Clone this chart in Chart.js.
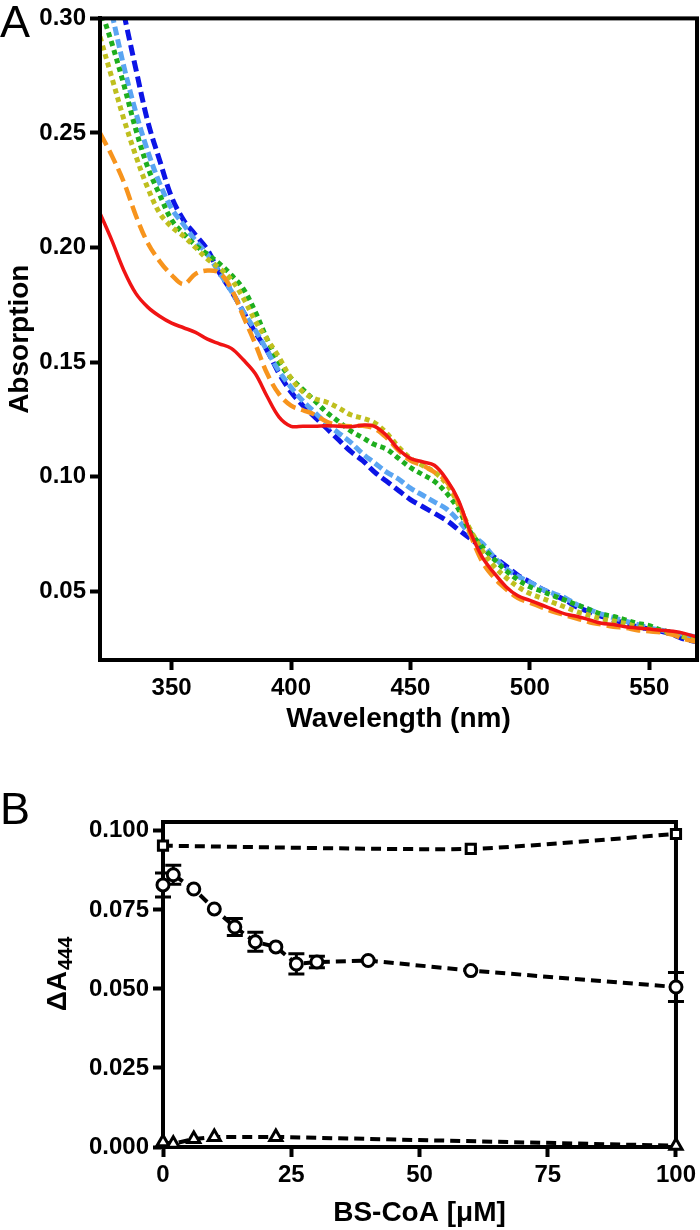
<!DOCTYPE html>
<html>
<head>
<meta charset="utf-8">
<script src="https://cdn.jsdelivr.net/npm/chart.js@4.4.1/dist/chart.umd.min.js"></script>
<style>
  html, body { margin: 0; padding: 0; background: #fff; }
  body { width: 700px; height: 1230px; position: relative; overflow: hidden; font-family: "Liberation Sans", Arial, sans-serif; }
  .panel-letter { position: absolute; left: 0; font-size: 45px; line-height: 1; color: #000; }
  #wrapA { position: absolute; left: 0; top: 0; width: 700px; height: 740px; }
  #wrapB { position: absolute; left: 0; top: 740px; width: 700px; height: 490px; }
</style>
</head>
<body>
<div id="wrapA"><canvas id="chart-spectra" width="700" height="740"></canvas></div>
<div id="wrapB"><canvas id="chart-titration" width="700" height="490"></canvas></div>
<div class="panel-letter" style="top:-1px">A</div>
<div class="panel-letter" style="top:786px">B</div>
<script>
// ---- panel A: spectra ----
const wavelengths = [
  320, 325, 330, 335, 340, 345, 350, 355, 360, 365,
  370, 375, 380, 385, 390, 395, 400, 405, 410, 415,
  420, 425, 430, 435, 440, 445, 450, 455, 460, 465,
  470, 475, 480, 485, 490, 495, 500, 505, 510, 515,
  520, 525, 530, 535, 540, 545, 550, 555, 560, 565, 570,
];
const wavelengthTicks = [350, 400, 450, 500, 550];
const absorptionTicks = [0.05, 0.10, 0.15, 0.20, 0.25, 0.30];

const absRed = [
  0.215, 0.203, 0.190, 0.180, 0.174, 0.170, 0.167, 0.165, 0.163, 0.160,
  0.158, 0.156, 0.151, 0.145, 0.135, 0.126, 0.122, 0.122, 0.122, 0.1222,
  0.122, 0.1218, 0.1225, 0.122, 0.118, 0.112, 0.108, 0.1065, 0.105, 0.099,
  0.090, 0.076, 0.065, 0.058, 0.052, 0.048, 0.046, 0.044, 0.042, 0.040,
  0.039, 0.0375, 0.036, 0.0355, 0.0345, 0.034, 0.0335, 0.033, 0.0325, 0.0315, 0.030,
];
const absOrange = [
  0.250, 0.240, 0.2285, 0.214, 0.202, 0.194, 0.188, 0.184, 0.1885, 0.190,
  0.189, 0.182, 0.170, 0.158, 0.145, 0.136, 0.131, 0.129, 0.127, 0.124,
  0.1225, 0.122, 0.1222, 0.121, 0.117, 0.1115, 0.107, 0.105, 0.102, 0.098,
  0.089, 0.075, 0.063, 0.056, 0.051, 0.047, 0.045, 0.043, 0.041, 0.0395,
  0.038, 0.0365, 0.0355, 0.0345, 0.034, 0.033, 0.0325, 0.032, 0.031, 0.029, 0.028,
];
const absOlive = [
  0.292, 0.274, 0.256, 0.240, 0.226, 0.215, 0.209, 0.205, 0.200, 0.195,
  0.191, 0.186, 0.178, 0.168, 0.160, 0.152, 0.143, 0.137, 0.134, 0.1325,
  0.130, 0.127, 0.1255, 0.1235, 0.119, 0.113, 0.108, 0.105, 0.102, 0.097,
  0.088, 0.077, 0.068, 0.061, 0.056, 0.052, 0.049, 0.047, 0.045, 0.043,
  0.041, 0.0395, 0.038, 0.037, 0.036, 0.0345, 0.0335, 0.0325, 0.0315, 0.030, 0.029,
];
const absGreen = [
  0.305, 0.289, 0.271, 0.2515, 0.235, 0.223, 0.212, 0.206, 0.201, 0.197,
  0.193, 0.188, 0.182, 0.172, 0.160, 0.150, 0.143, 0.138, 0.133, 0.128,
  0.124, 0.120, 0.117, 0.114, 0.112, 0.108, 0.104, 0.101, 0.098, 0.093,
  0.086, 0.076, 0.0695, 0.064, 0.059, 0.055, 0.052, 0.050, 0.048, 0.046,
  0.044, 0.042, 0.040, 0.039, 0.0375, 0.036, 0.035, 0.033, 0.032, 0.030, 0.029,
];
const absLightBlue = [
  null, 0.302, 0.279, 0.259, 0.242, 0.228, 0.217, 0.210, 0.203, 0.197,
  0.189, 0.181, 0.172, 0.164, 0.155, 0.146, 0.139, 0.133, 0.128, 0.123,
  0.119, 0.115, 0.110, 0.106, 0.102, 0.099, 0.095, 0.092, 0.089, 0.086,
  0.081, 0.075, 0.071, 0.065, 0.060, 0.0565, 0.054, 0.051, 0.049, 0.047,
  0.044, 0.042, 0.040, 0.0385, 0.037, 0.0355, 0.034, 0.033, 0.032, 0.031, 0.030,
];
const absBlue = [
  null, null, 0.302, 0.278, 0.255, 0.238, 0.222, 0.212, 0.2055, 0.199,
  0.189, 0.181, 0.172, 0.163, 0.155, 0.145, 0.137, 0.131, 0.126, 0.121,
  0.116, 0.111, 0.107, 0.102, 0.098, 0.094, 0.090, 0.087, 0.084, 0.081,
  0.077, 0.073, 0.069, 0.065, 0.061, 0.057, 0.054, 0.051, 0.0485, 0.046,
  0.043, 0.041, 0.039, 0.0375, 0.036, 0.0345, 0.0335, 0.0325, 0.031, 0.029, 0.028,
];

// ---- panel B: titration ----
const concTicks = [0, 25, 50, 75, 100];
const deltaTicks = [0, 0.025, 0.05, 0.075, 0.1];

const concSquare = [0, 60, 100];
const deltaSquare = [0.0953, 0.0943, 0.099];

const concCircle = [0, 2, 6, 10, 14, 18, 22, 26, 30, 40, 60, 100];
const deltaCircle = [0.0829, 0.0861, 0.0816, 0.0753, 0.0696, 0.0649, 0.0633, 0.0579, 0.0585, 0.0590, 0.0558, 0.0506];
const errCircle = [0.0038, 0.003, 0, 0, 0.0027, 0.003, 0, 0.0032, 0.0018, 0, 0, 0.0046];

const concTriangle = [0, 2, 6, 10, 22, 100];
const deltaTriangle = [0.0015, 0.001, 0.0025, 0.0032, 0.0032, 0.0004];

Chart.defaults.font.family = "'Liberation Sans', Arial, sans-serif";
Chart.defaults.font.weight = "bold";
Chart.defaults.color = "#000";

const toPoints = (xs, ys) => xs.map((x, i) => ({ x, y: ys[i] }));

const framePlugin = {
  id: "frame",
  beforeDatasetsDraw(chart, args, opts) {
    if (opts.onTop) return;
    drawFrame(chart);
  },
  afterDatasetsDraw(chart, args, opts) {
    if (opts.onTop) drawFrame(chart);
  },
};

function drawFrame(chart) {
  const { ctx, chartArea: a } = chart;
  ctx.save();
  ctx.strokeStyle = "#000";
  ctx.lineWidth = 4;
  ctx.strokeRect(a.left, a.top, a.right - a.left, a.bottom - a.top);
  ctx.restore();
}

const errorBarPlugin = {
  id: "errorBars",
  beforeDatasetsDraw(chart) {
    const { ctx, scales: { x, y } } = chart;
    ctx.save();
    ctx.strokeStyle = "#000";
    ctx.lineWidth = 3;
    concCircle.forEach((c, i) => {
      const e = errCircle[i];
      if (!e) return;
      const px = x.getPixelForValue(c);
      const top = y.getPixelForValue(deltaCircle[i] + e);
      const bot = y.getPixelForValue(deltaCircle[i] - e);
      ctx.beginPath();
      ctx.moveTo(px, top); ctx.lineTo(px, bot);
      ctx.moveTo(px - 8, top); ctx.lineTo(px + 8, top);
      ctx.moveTo(px - 8, bot); ctx.lineTo(px + 8, bot);
      ctx.stroke();
    });
    ctx.restore();
  },
};

// y title with subscript: ΔA444
const subTitlePlugin = {
  id: "subTitle",
  afterDraw(chart) {
    const { ctx, chartArea: a } = chart;
    const cy = (a.top + a.bottom) / 2 - 10;
    const big = "bold 28px 'Liberation Sans', Arial, sans-serif";
    const small = "bold 20px 'Liberation Sans', Arial, sans-serif";
    ctx.save();
    ctx.translate(58, cy);
    ctx.rotate(-Math.PI / 2);
    ctx.fillStyle = "#000";
    ctx.textBaseline = "middle";
    ctx.font = big;
    const w1 = ctx.measureText("ΔA").width;
    ctx.font = small;
    const w2 = ctx.measureText("444").width;
    const x0 = -(w1 + w2) / 2;
    ctx.font = big;
    ctx.fillText("ΔA", x0, 0);
    ctx.font = small;
    ctx.fillText("444", x0 + w1 + 1, 8);
    ctx.restore();
  },
};

function axisStyle(extra) {
  return Object.assign({
    grid: { drawOnChartArea: false, drawTicks: true, color: "#000", tickLength: 10, tickWidth: 4 },
    border: { color: "#000", width: 4 },
  }, extra);
}

function initSpectra() {
  const series = [
    { data: absRed, color: "#f01414", dash: [], width: 3.5 },
    { data: absOrange, color: "#f7941d", dash: [14, 6], width: 4.5 },
    { data: absOlive, color: "#bfbf1e", dash: [5, 4], width: 5 },
    { data: absGreen, color: "#1eae1e", dash: [5, 4], width: 5 },
    { data: absLightBlue, color: "#5aa5f2", dash: [9, 4], width: 5 },
    { data: absBlue, color: "#0c14e6", dash: [11, 5], width: 5 },
  ];
  new Chart(document.getElementById("chart-spectra"), {
    type: "line",
    data: {
      datasets: series.map(s => ({
        data: toPoints(wavelengths, s.data),
        borderColor: s.color,
        borderDash: s.dash,
        borderWidth: s.width,
        pointRadius: 0,
        tension: 0.35,
        fill: false,
      })),
    },
    options: {
      responsive: false,
      animation: false,
      layout: { padding: { top: 15, right: 3, left: 0, bottom: 0 } },
      plugins: { legend: { display: false }, tooltip: { enabled: false }, frame: { onTop: true } },
      scales: {
        x: axisStyle({
          type: "linear", min: 320, max: 570,
          afterBuildTicks: s => { s.ticks = wavelengthTicks.map(v => ({ value: v })); },
          afterFit: s => { s.height = 80; },
          ticks: { font: { size: 24 }, padding: 4, maxRotation: 0 },
          title: { display: true, text: "Wavelength (nm)", font: { size: 28 }, padding: { top: 0, bottom: 4 } },
        }),
        y: axisStyle({
          min: 0.02, max: 0.30,
          afterBuildTicks: s => { s.ticks = absorptionTicks.map(v => ({ value: v })); },
          afterFit: s => { s.width = 100; },
          ticks: { font: { size: 24 }, padding: 4, callback: v => v.toFixed(2) },
          title: { display: true, text: "Absorption", font: { size: 28 }, padding: { top: 3, bottom: 0 } },
        }),
      },
    },
    plugins: [framePlugin],
  });
}

function initTitration() {
  const common = {
    borderColor: "#000",
    borderWidth: 4,
    borderDash: [10, 6],
    pointBackgroundColor: "#fff",
    pointBorderColor: "#000",
    pointBorderWidth: 3,
    tension: 0,
    fill: false,
    clip: false,
  };
  new Chart(document.getElementById("chart-titration"), {
    type: "line",
    data: {
      datasets: [
        { ...common, data: toPoints(concSquare, deltaSquare), pointStyle: "rect", pointRadius: 6.5, tension: 0.2 },
        { ...common, data: toPoints(concCircle, deltaCircle), pointStyle: "circle", pointRadius: 6 },
        { ...common, data: toPoints(concTriangle, deltaTriangle), pointStyle: "triangle", pointRadius: 7 },
      ],
    },
    options: {
      responsive: false,
      animation: false,
      layout: { padding: { top: 82, right: 19, left: 0, bottom: 0 } },
      plugins: { legend: { display: false }, tooltip: { enabled: false }, frame: { onTop: false } },
      scales: {
        x: axisStyle({
          type: "linear", min: 0, max: 100,
          afterBuildTicks: s => { s.ticks = concTicks.map(v => ({ value: v })); },
          afterFit: s => { s.height = 83; },
          ticks: { font: { size: 24 }, padding: 4, maxRotation: 0 },
          title: { display: true, text: "BS-CoA [μM]", font: { size: 28 }, padding: { top: 0, bottom: 0 } },
        }),
        y: axisStyle({
          min: 0, max: 0.1028,
          afterBuildTicks: s => { s.ticks = deltaTicks.map(v => ({ value: v })); },
          afterFit: s => { s.width = 163; },
          ticks: { font: { size: 24 }, padding: 4, callback: v => v.toFixed(3) },
        }),
      },
    },
    plugins: [framePlugin, errorBarPlugin, subTitlePlugin],
  });
}

document.addEventListener("DOMContentLoaded", () => {
  initSpectra();
  initTitration();
});
</script>
</body>
</html>
